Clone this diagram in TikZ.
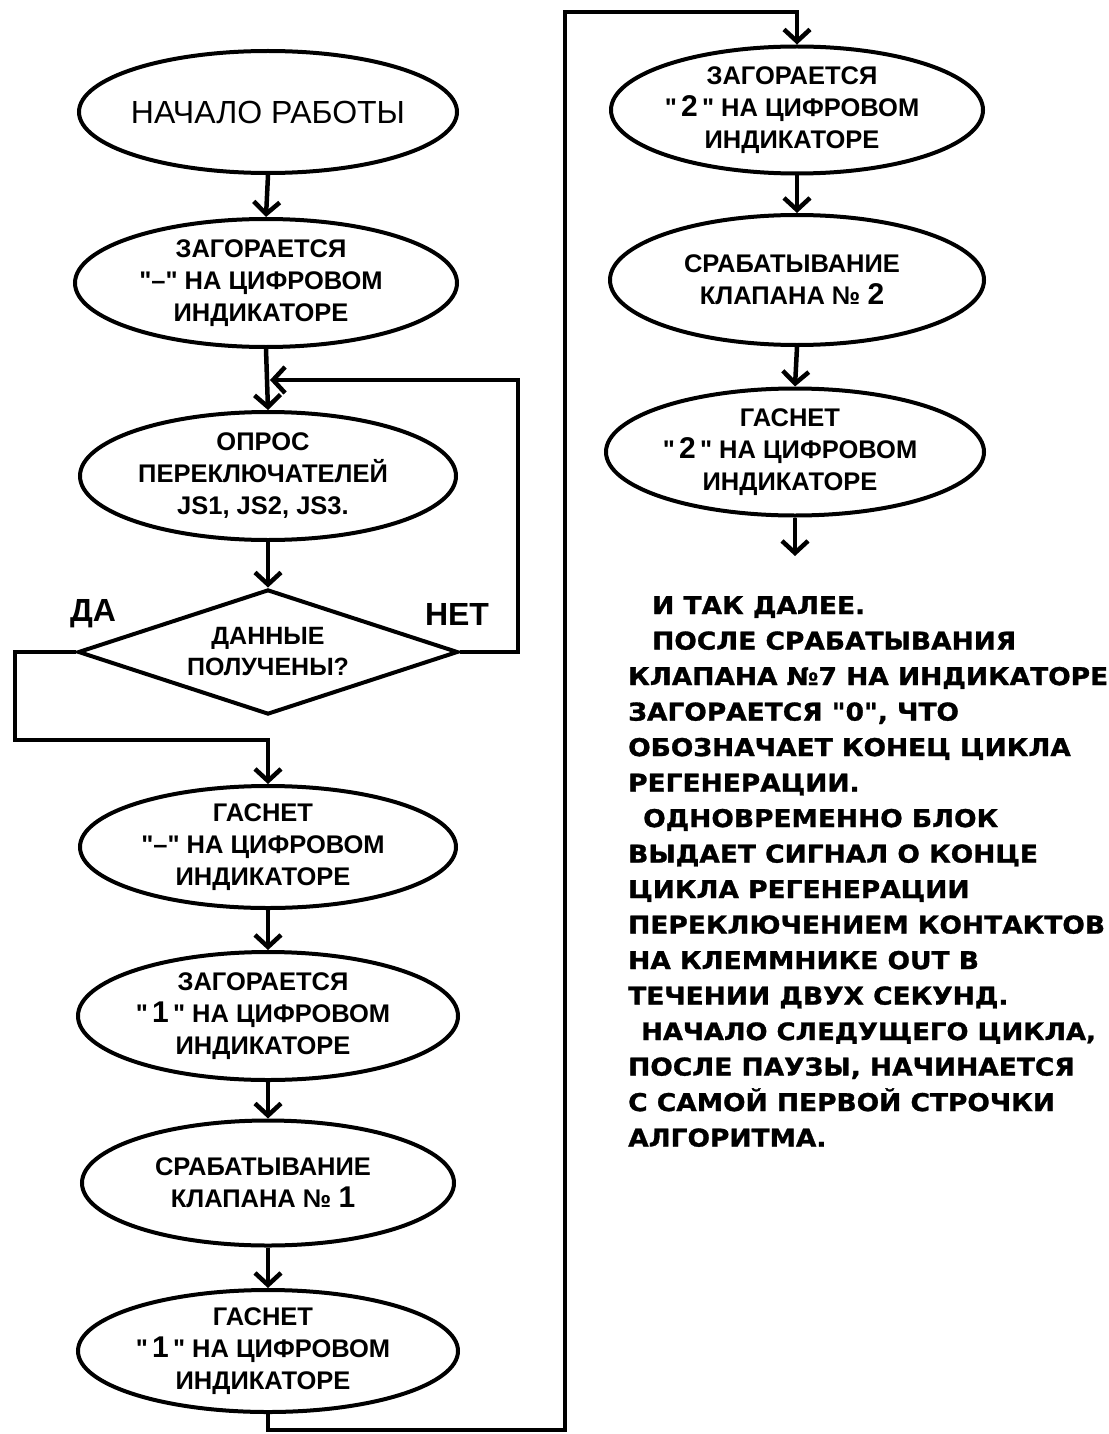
\documentclass[tikz,border=0pt]{standalone}
\usepackage{fontspec}
\setmainfont{Liberation Sans}[Ligatures=TeXOff]
\newfontfamily\blockfont[FakeStretch=1.08,FakeBold=1.2]{DejaVu Sans}
\usetikzlibrary{shapes.geometric,arrows.meta}
\begin{document}
\begin{tikzpicture}[x=1pt,y=-1pt,
  ln/.style={line width=4.5pt},
  arr/.style={ln,-{Straight Barb[length=12pt,width=26pt]}},
  ell/.style={ellipse,draw,line width=4pt,minimum width=378pt,minimum height=126pt,inner sep=0pt,fill=white},
  etxt/.style={font=\fontsize{25.5}{32}\selectfont\bfseries,align=center,inner sep=0pt,xshift=-5pt},
  rtxt/.style={font=\fontsize{32}{32}\selectfont,align=center,inner sep=0pt},
  dtxt/.style={font=\fontsize{25}{31}\selectfont\bfseries,align=center,inner sep=0pt},
  lbl/.style={font=\fontsize{32}{32}\selectfont\bfseries,inner sep=0pt},
  btxt/.style={font=\blockfont\bfseries\fontsize{24.5}{35.5}\selectfont,align=left,inner sep=0pt,anchor=north west},
]
\newcommand{\bignum}[1]{{\fontsize{30}{32}\selectfont #1}}
\newcommand{\qq}{\symbol{34}}
\useasboundingbox (0,0) rectangle (1108,1434);
\fill[white] (0,0) rectangle (1108,1434);

% left column
\node[ell,minimum height=122pt,label={[rtxt]center:{НАЧАЛО РАБОТЫ}}] (e1) at (268,112) {};
\node[ell,minimum width=382pt,minimum height=128pt,label={[etxt]center:{ЗАГОРАЕТСЯ\\\qq–\qq\ НА ЦИФРОВОМ\\ИНДИКАТОРЕ}}] (e2) at (266,283) {};
\node[ell,minimum width=376pt,minimum height=128pt,label={[etxt]center:{ОПРОС\\ПЕРЕКЛЮЧАТЕЛЕЙ\\JS1, JS2, JS3.}}] (e3) at (268,476) {};
\node[diamond,draw,line width=4pt,minimum width=380pt,minimum height=125pt,inner sep=0pt,fill=white] (d) at (268,652) {};
\node[dtxt] (dt) at (d.center) {ДАННЫЕ\\ПОЛУЧЕНЫ?};
\node[lbl] (da) at (93,614) {ДА};
\node[lbl] (net) at (457,614) {НЕТ};
\node[ell,minimum width=376pt,minimum height=122pt,label={[etxt]center:{ГАСНЕТ\\\qq–\qq\ НА ЦИФРОВОМ\\ИНДИКАТОРЕ}}] (e4) at (268,847) {};
\node[ell,minimum width=380pt,minimum height=128pt,label={[etxt]center:{ЗАГОРАЕТСЯ\\\qq\,\bignum{1}\,\qq\ НА ЦИФРОВОМ\\ИНДИКАТОРЕ}}] (e5) at (268,1016) {};
\node[ell,minimum width=372pt,minimum height=125pt,label={[etxt]center:{СРАБАТЫВАНИЕ\\КЛАПАНА № \bignum{1}}}] (e6) at (268,1183) {};
\node[ell,minimum width=380pt,minimum height=122pt,label={[etxt]center:{ГАСНЕТ\\\qq\,\bignum{1}\,\qq\ НА ЦИФРОВОМ\\ИНДИКАТОРЕ}}] (e7) at (268,1351) {};

% right column
\node[ell,minimum width=372pt,minimum height=127pt,label={[etxt]center:{ЗАГОРАЕТСЯ\\\qq\,\bignum{2}\,\qq\ НА ЦИФРОВОМ\\ИНДИКАТОРЕ}}] (e8) at (797,110) {};
\node[ell,minimum width=374pt,minimum height=130pt,label={[etxt]center:{СРАБАТЫВАНИЕ\\КЛАПАНА № \bignum{2}}}] (e9) at (797,280) {};
\node[ell,minimum width=378pt,minimum height=127pt,label={[etxt]center:{ГАСНЕТ\\\qq\,\bignum{2}\,\qq\ НА ЦИФРОВОМ\\ИНДИКАТОРЕ}}] (e10) at (795,452) {};

% connector coordinates
\coordinate (jn) at (270,380);
\coordinate (nr) at (518,652);
\coordinate (nt) at (518,380);
\coordinate (yl) at (15,652);
\coordinate (ylb) at (15,740);
\coordinate (yb) at (268,740);
\coordinate (b1) at (268,1430);
\coordinate (b2) at (565,1430);
\coordinate (b3) at (565,12);
\coordinate (b4) at (797,12);
\coordinate (endc) at (795,556);

\draw[arr] (e1.south) -- (e2.north);
\draw[arr] (e2.south) -- (e3.north);
\draw[arr] (e3.south) -- (d.north);
\draw[arr] (d.east) -- (nr) -- (nt) -- (jn);
\draw[arr] (d.west) -- (yl) -- (ylb) -- (yb) -- (e4.north);
\draw[arr] (e4.south) -- (e5.north);
\draw[arr] (e5.south) -- (e6.north);
\draw[arr] (e6.south) -- (e7.north);
\draw[arr] (e7.south) -- (b1) -- (b2) -- (b3) -- (b4) -- (e8.north);
\draw[arr] (e8.south) -- (e9.north);
\draw[arr] (e9.south) -- (e10.north);
\draw[arr] (e10.south) -- (endc);

% text block
\node[btxt] (note) at (628,596) {\hspace*{24pt}И ТАК ДАЛЕЕ.\\
\hspace*{24pt}ПОСЛЕ СРАБАТЫВАНИЯ\\
КЛАПАНА №7 НА ИНДИКАТОРЕ\\
ЗАГОРАЕТСЯ \qq0\qq, ЧТО\\
ОБОЗНАЧАЕТ КОНЕЦ ЦИКЛА\\
РЕГЕНЕРАЦИИ.\\
\hspace*{15pt}ОДНОВРЕМЕННО БЛОК\\
ВЫДАЕТ СИГНАЛ О КОНЦЕ\\
ЦИКЛА РЕГЕНЕРАЦИИ\\
ПЕРЕКЛЮЧЕНИЕМ КОНТАКТОВ\\
НА КЛЕММНИКЕ OUT В\\
ТЕЧЕНИИ ДВУХ СЕКУНД.\\
\hspace*{13pt}{\fontsize{24}{35.5}\selectfont НАЧАЛО СЛЕДУЩЕГО ЦИКЛА,}\\
ПОСЛЕ ПАУЗЫ, НАЧИНАЕТСЯ\\
С САМОЙ ПЕРВОЙ СТРОЧКИ\\
АЛГОРИТМА.};
\end{tikzpicture}
\end{document}
